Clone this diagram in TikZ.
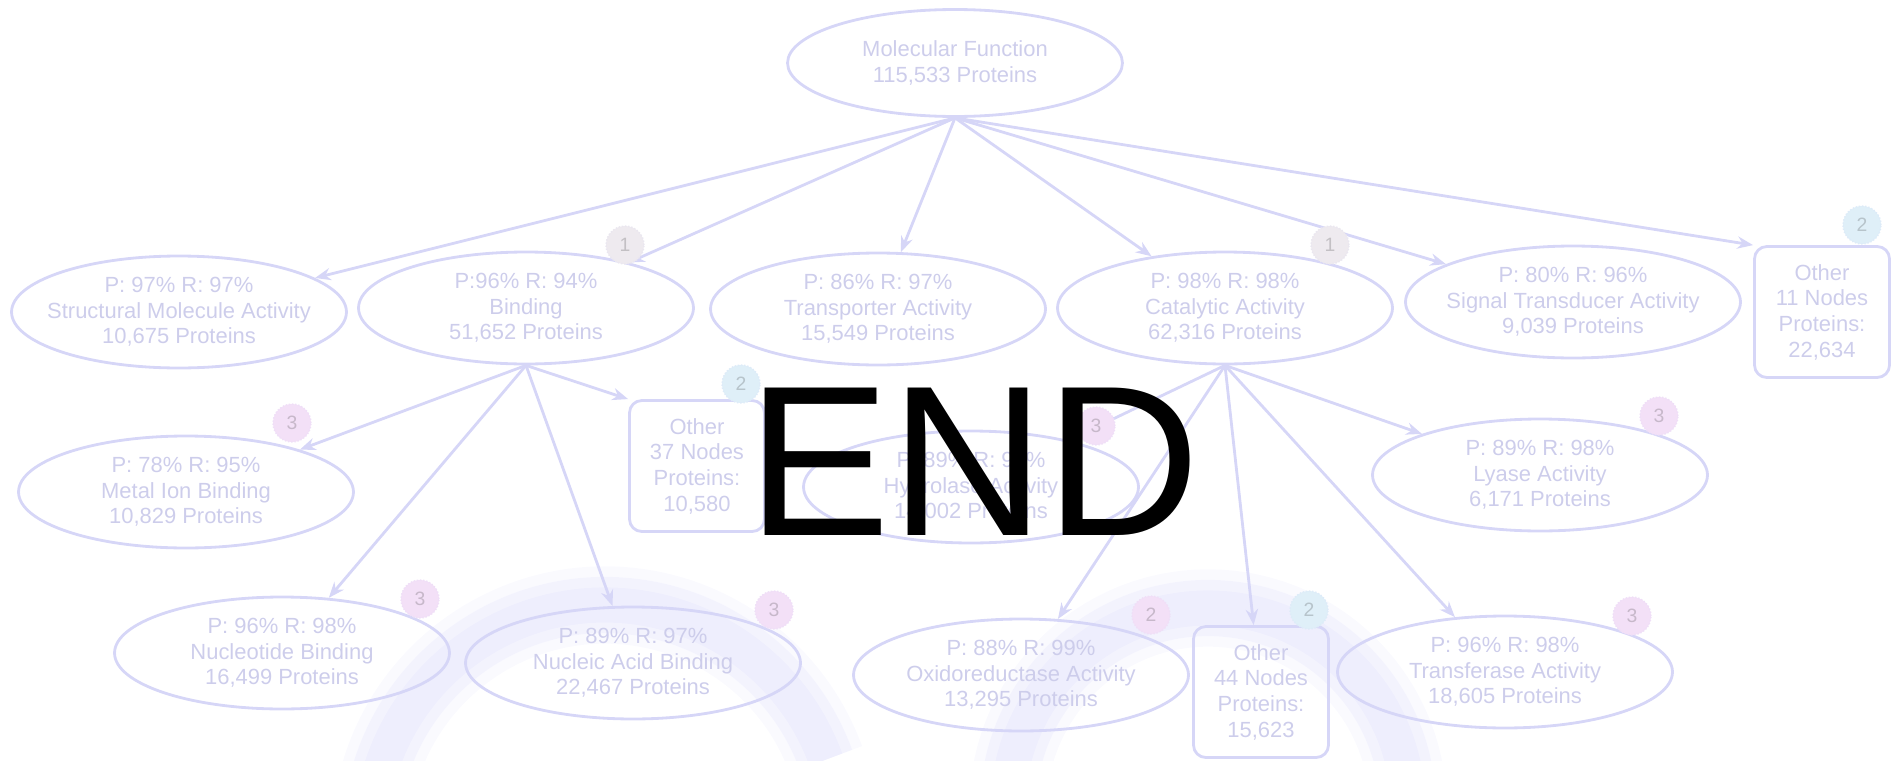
\documentclass[tikz,border=0pt]{standalone}
\usepackage{fontspec}
\setmainfont{Liberation Sans}
\usetikzlibrary{shapes.geometric,arrows.meta}

\definecolor{trait}{HTML}{D6D6F7}
\definecolor{texte}{HTML}{CDCDEB}
\definecolor{anneau}{HTML}{EAEAFC}
\definecolor{rose}{HTML}{F3E0F7}
\definecolor{bleuclair}{HTML}{DFEFF8}
\definecolor{gris}{HTML}{EEEAEF}

\begin{document}
\begin{tikzpicture}[x=0.02cm, y=-0.02cm, line width=1.6pt,
    >={Stealth[length=9pt,width=7pt]},
    terme/.style={ellipse, draw=trait, text=texte, minimum width=6.7cm,
        minimum height=2.24cm, inner xsep=-0.3cm, inner ysep=0pt, align=center,
        font=\fontsize{12.5}{14.6}\selectfont},
    autre/.style={rectangle, rounded corners=7pt, draw=trait, text=texte,
        minimum width=2.7cm, minimum height=2.62cm, inner sep=0pt, align=center,
        font=\fontsize{12.5}{14.6}\selectfont},
    pastille/.style={circle, fill=#1, draw=#1!85!trait, densely dotted,
        line width=0.8pt, text=#1!82!black, minimum size=0.76cm, inner sep=0pt,
        font=\fontsize{11}{11}\selectfont},
    lien/.style={->, draw=trait}]

    \useasboundingbox (0,0) rectangle (1898,761);

    % Anneaux en fond
    \begin{scope}
        \clip (0,0) rectangle (1898,761);
        \foreach \lw/\op in {44pt/0.25, 32pt/0.4, 20pt/0.6} {
            \draw[anneau, line width=\lw, opacity=\op] (605,840) ++(-172:235) arc[start angle=-172, end angle=-20, radius=235];
            \draw[anneau, line width=\lw, opacity=\op] (1208,808) ++(-180:200) arc[start angle=-180, end angle=0, radius=200];
        }
    \end{scope}

    % Racine
    \node[terme, minimum height=2.14cm] (mf) at (955,63) {Molecular Function\\115,533 Proteins};

    % Niveau 1
    \node[terme] (struct) at (179,312) {P: 97\% R: 97\%\\Structural Molecule Activity\\10,675 Proteins};
    \node[terme] (bind) at (526,308) {P:96\% R: 94\%\\Binding\\51,652 Proteins};
    \node[terme] (transp) at (878,309) {P: 86\% R: 97\%\\Transporter Activity\\15,549 Proteins};
    \node[terme] (cata) at (1225,308) {P: 98\% R: 98\%\\Catalytic Activity\\62,316 Proteins};
    \node[terme] (signal) at (1573,302) {P: 80\% R: 96\%\\Signal Transducer Activity\\9,039 Proteins};
    \node[autre] (autre11) at (1822,312) {Other\\11 Nodes\\Proteins:\\22,634};

    % Niveau 2 sous Binding
    \node[terme] (metal) at (186,492) {P: 78\% R: 95\%\\Metal Ion Binding\\10,829 Proteins};
    \node[autre] (autre37) at (697,466) {Other\\37 Nodes\\Proteins:\\10,580};
    \node[terme] (nucleo) at (282,653) {P: 96\% R: 98\%\\Nucleotide Binding\\16,499 Proteins};
    \node[terme] (nucl) at (633,663) {P: 89\% R: 97\%\\Nucleic Acid Binding\\22,467 Proteins};

    % Niveau 2 sous Catalytic
    \node[terme] (hydro) at (971,487) {P: 89\% R: 99\%\\Hydrolase Activity\\14,002 Proteins};
    \node[terme] (lyase) at (1540,475) {P: 89\% R: 98\%\\Lyase Activity\\6,171 Proteins};
    \node[terme] (oxydo) at (1021,675) {P: 88\% R: 99\%\\Oxidoreductase Activity\\13,295 Proteins};
    \node[autre] (autre44) at (1261,692) {Other\\44 Nodes\\Proteins:\\15,623};
    \node[terme] (transf) at (1505,672) {P: 96\% R: 98\%\\Transferase Activity\\18,605 Proteins};

    % Flèches depuis la racine
    \draw[lien] (mf.south) -- (struct);
    \draw[lien] (mf.south) -- (bind);
    \draw[lien] (mf.south) -- (transp);
    \draw[lien] (mf.south) -- (cata);
    \draw[lien] (mf.south) -- (signal);
    \draw[lien] (mf.south) -- (autre11.north west);

    % Flèches depuis Binding
    \draw[lien] (bind.south) -- (metal);
    \draw[lien] (bind.south) -- (nucleo);
    \draw[lien] (bind.south) -- (nucl);
    \draw[lien] (bind.south) -- (autre37.north west);

    % Flèches depuis Catalytic
    \draw[lien] (cata.south) -- (hydro);
    \draw[lien] (cata.south) -- (oxydo);
    \draw[lien] (cata.south) -- (autre44);
    \draw[lien] (cata.south) -- (lyase);
    \draw[lien] (cata.south) -- (transf);

    % Pastilles
    \node[pastille=gris] (p1a) at (625,245) {1};
    \node[pastille=gris] (p1b) at (1330,245) {1};
    \node[pastille=bleuclair] (p2a) at (1862,225) {2};
    \node[pastille=bleuclair] (p2b) at (741,384) {2};
    \node[pastille=bleuclair] (p2c) at (1309,610) {2};
    \node[pastille=rose] (p3a) at (292,423) {3};
    \node[pastille=rose] (p3b) at (1096,426) {3};
    \node[pastille=rose] (p3c) at (1659,416) {3};
    \node[pastille=rose] (p3d) at (420,599) {3};
    \node[pastille=rose] (p3e) at (774,610) {3};
    \node[pastille=rose] (p2d) at (1151,615) {2};
    \node[pastille=rose] (p3f) at (1632,616) {3};

    % Texte final
    \node[anchor=base west, inner sep=0pt, font=\fontsize{122}{122}\selectfont] (fin) at (746,535) {END};
\end{tikzpicture}
\end{document}
